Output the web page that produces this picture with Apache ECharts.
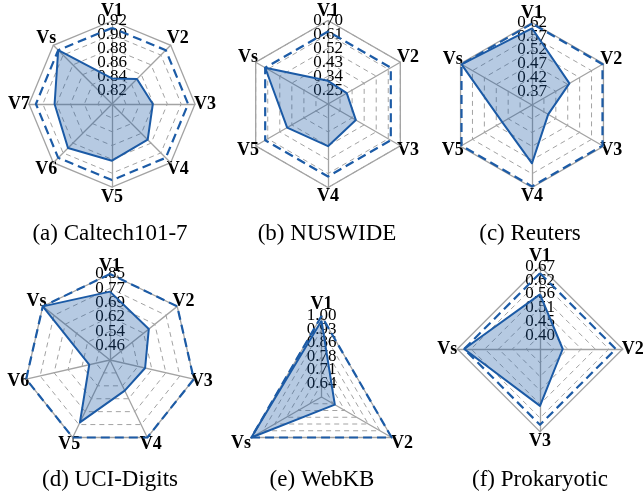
<!DOCTYPE html>
<html>
<head>
<meta charset="utf-8">
<script src="https://cdn.jsdelivr.net/npm/echarts@6/dist/echarts.min.js"></script>
<style>
  html, body { margin: 0; padding: 0; background: #fff; }
  #chart { width: 643px; height: 494px; }
</style>
</head>
<body>
<div id="chart"></div>
<script>
// axis names, clockwise from the top
const caltechAxes = ['V1', 'V2', 'V3', 'V4', 'V5', 'V6', 'V7', 'Vs'];
const nuswideAxes = ['V1', 'V2', 'V3', 'V4', 'V5', 'Vs'];
const reutersAxes = ['V1', 'V2', 'V3', 'V4', 'V5', 'Vs'];
const digitsAxes = ['V1', 'V2', 'V3', 'V4', 'V5', 'V6', 'Vs'];
const webkbAxes = ['V1', 'V2', 'Vs'];
const prokaryoticAxes = ['V1', 'V2', 'V3', 'Vs'];

// per-view scores (solid, filled)
const caltechViews = [0.837, 0.851, 0.859, 0.873, 0.882, 0.890, 0.883, 0.910];
const nuswideViews = [0.310, 0.300, 0.368, 0.433, 0.465, 0.629];
const reutersViews = [0.599, 0.477, 0.388, 0.532, 0.445, 0.616];
const digitsViews = [0.754, 0.652, 0.578, 0.567, 0.759, 0.498, 0.850];
const webkbViews = [0.975, 0.650, 1.000];
const prokaryoticViews = [0.560, 0.435, 0.569, 0.643];

// Vs level drawn on every axis (dashed)
const caltechVs = [0.910, 0.910, 0.910, 0.910, 0.910, 0.910, 0.910, 0.910];
const nuswideVs = [0.629, 0.629, 0.629, 0.629, 0.629, 0.629];
const reutersVs = [0.616, 0.616, 0.616, 0.616, 0.616, 0.616];
const digitsVs = [0.850, 0.850, 0.850, 0.850, 0.850, 0.850, 0.850];
const webkbVs = [1.000, 1.000, 1.000];
const prokaryoticVs = [0.643, 0.643, 0.643, 0.643];

// radial ranges (min = centre, max = outer ring), 6 rings each
const caltechRange = [0.80, 0.92];
const nuswideRange = [0.16, 0.70];
const reutersRange = [0.32, 0.62];
const digitsRange = [0.382, 0.85];
const webkbRange = [0.568, 1.00];
const prokaryoticRange = [0.346, 0.67];

const captions = ['(a) Caltech101-7', '(b) NUSWIDE', '(c) Reuters',
                  '(d) UCI-Digits', '(e) WebKB', '(f) Prokaryotic'];

const serif = '"Liberation Serif", "DejaVu Serif", serif';
const blue = '#1c5ba6';
const gray = '#a3a3a3';

const panels = [
  { axes: caltechAxes, views: caltechViews, vs: caltechVs, range: caltechRange, center: [112, 104], r: 83, gap: 10, cap: [110, 222] },
  { axes: nuswideAxes, views: nuswideViews, vs: nuswideVs, range: nuswideRange, center: [328, 104], r: 83.5, gap: 9, cap: [327, 222] },
  { axes: reutersAxes, views: reutersViews, vs: reutersVs, range: reutersRange, center: [532, 105], r: 82.5, gap: 9, cap: [530, 222] },
  { axes: digitsAxes, views: digitsViews, vs: digitsVs, range: digitsRange, center: [110, 360], r: 86, gap: 8, cap: [110, 468] },
  { axes: webkbAxes, views: webkbViews, vs: webkbVs, range: webkbRange, center: [321.5, 397], r: 81, gap: 12, cap: [322, 468] },
  { axes: prokaryoticAxes, views: prokaryoticViews, vs: prokaryoticVs, range: prokaryoticRange, center: [540, 349], r: 82.7, gap: 10, cap: [540, 468] }
];

// echarts lays indicators out counter-clockwise, so flip everything after the first
function ccw(arr) {
  return [arr[0]].concat(arr.slice(1).reverse());
}

// labels overlap in the original, echarts would drop some of them,
// so odd and even rings get their labels from two separate radars
function ringLabel(range, odd) {
  return function (v) {
    let lvl = Math.round((v - range[0]) / ((range[1] - range[0]) / 6));
    if (lvl === 0 || (lvl % 2 === 1) !== odd) return '';
    return v.toFixed(2);
  };
}

function labelStyle(range, odd) {
  return {
    show: false, color: '#000', fontFamily: serif, fontSize: 17,
    margin: 0, align: 'center', verticalAlign: 'middle',
    showMinLabel: false, showMaxLabel: !odd, hideOverlap: false,
    formatter: ringLabel(range, odd)
  };
}

let radars = [];
let series = [];
let titles = [];

panels.forEach(function (p, k) {
  let names = ccw(p.axes);
  let ind = function (withLabel) {
    return names.map(function (n, i) {
      let o = { name: n, min: p.range[0], max: p.range[1] };
      if (withLabel && i === 0) o.axisLabel = { show: true };
      return o;
    });
  };
  // dashed inner rings, names, odd ring labels
  radars.push({
    center: p.center, radius: p.r, startAngle: 90, shape: 'polygon', splitNumber: 6,
    indicator: ind(true),
    axisName: {
      color: '#000', fontFamily: serif, fontWeight: 'bold', fontSize: 18,
      align: 'center', verticalAlign: 'middle'
    },
    nameGap: p.gap,
    splitLine: { lineStyle: { color: [gray, gray, gray, gray, gray, gray, 'rgba(0,0,0,0)'], type: [5, 4], width: 1 } },
    splitArea: { show: false },
    axisLine: { show: false },
    axisTick: { show: false },
    axisLabel: labelStyle(p.range, true)
  });
  // even ring labels only
  radars.push({
    center: p.center, radius: p.r, startAngle: 90, shape: 'polygon', splitNumber: 6,
    indicator: ind(true),
    axisName: { show: false },
    splitLine: { show: false },
    splitArea: { show: false },
    axisLine: { show: false },
    axisTick: { show: false },
    axisLabel: labelStyle(p.range, false)
  });
  // solid outer ring and spokes
  radars.push({
    center: p.center, radius: p.r, startAngle: 90, shape: 'polygon', splitNumber: 1,
    indicator: ind(false),
    axisName: { show: false },
    splitLine: { lineStyle: { color: gray, width: 1.3 } },
    splitArea: { show: false },
    axisLine: { lineStyle: { color: gray, width: 1.3 } },
    axisTick: { show: false },
    axisLabel: { show: false }
  });
  series.push({
    type: 'radar',
    radarIndex: 3 * k,
    symbol: 'none',
    silent: true,
    data: [
      { value: ccw(p.vs), lineStyle: { color: blue, width: 2.2, type: [9, 5] } },
      { value: ccw(p.views), lineStyle: { color: blue, width: 2 }, areaStyle: { color: blue, opacity: 0.32 } }
    ]
  });
  titles.push({
    text: captions[k],
    left: p.cap[0],
    top: p.cap[1],
    textAlign: 'center',
    padding: 0,
    textStyle: { color: '#000', fontFamily: serif, fontWeight: 'normal', fontSize: 23 }
  });
});

let myChart = echarts.init(document.getElementById('chart'), null, { renderer: 'canvas' });
myChart.setOption({
  animation: false,
  backgroundColor: '#fff',
  title: titles,
  radar: radars,
  series: series
});
</script>
</body>
</html>
